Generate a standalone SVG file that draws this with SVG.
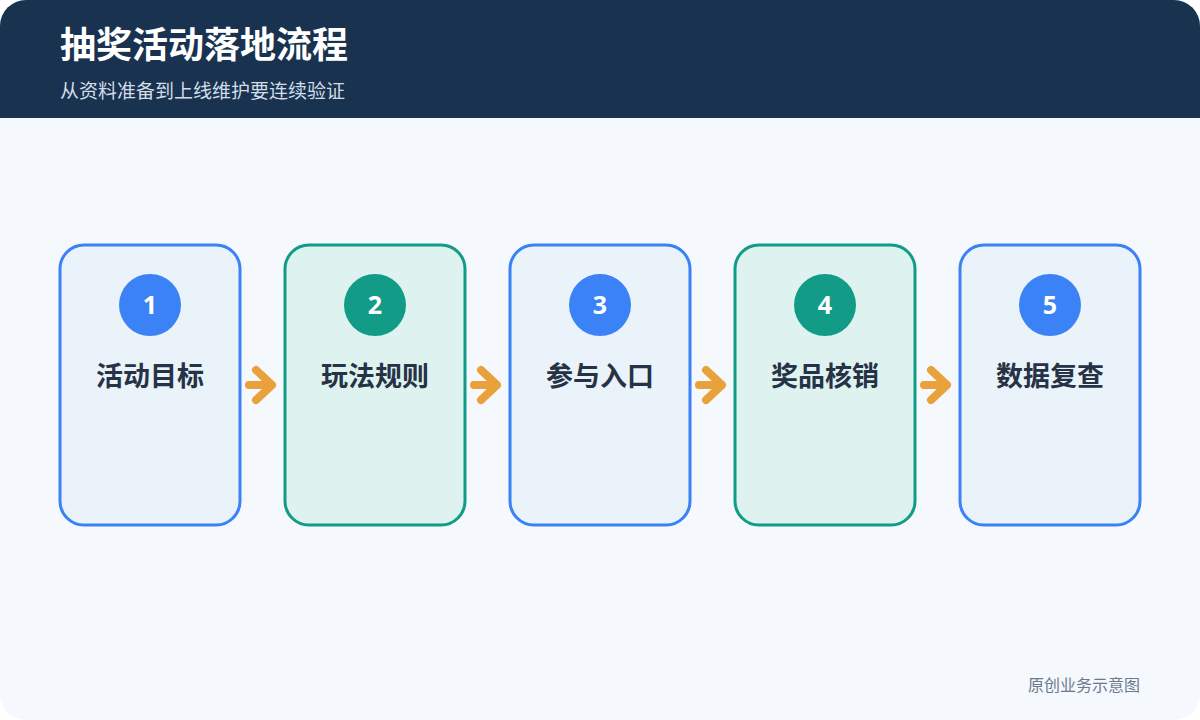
<svg xmlns="http://www.w3.org/2000/svg" width="1200" height="720" viewBox="0 0 1200 720">
  <defs>
    <clipPath id="canvasClip">
      <rect x="0" y="0" width="1200" height="720" rx="26" ry="26"/>
    </clipPath>
    <style>
      .title { font-family: "Noto Sans CJK SC", "Noto Sans", sans-serif; font-weight: 700; font-size: 36px; fill: #ffffff; }
      .subtitle { font-family: "Noto Sans CJK SC", "Noto Sans", sans-serif; font-size: 19px; fill: #d3dde8; }
      .card-blue { fill: #eaf2fa; stroke: #3b82f6; stroke-width: 3; }
      .card-green { fill: #def3ef; stroke: #129c88; stroke-width: 3; }
      .dot-blue { fill: #3b82f6; }
      .dot-green { fill: #129c88; }
      .num { font-family: "Noto Sans", "Noto Sans CJK SC", sans-serif; font-weight: 700; font-size: 25px; fill: #ffffff; text-anchor: middle; }
      .label { font-family: "Noto Sans CJK SC", "Noto Sans", sans-serif; font-weight: 700; font-size: 27px; fill: #263245; text-anchor: middle; }
      .arrow { fill: none; stroke: #e9a23b; stroke-width: 8; stroke-linecap: round; stroke-linejoin: round; }
      .footer { font-family: "Noto Sans CJK SC", "Noto Sans", sans-serif; font-size: 16px; fill: #6b7a8e; text-anchor: end; }
    </style>
  </defs>
  <rect x="0" y="0" width="1200" height="720" fill="#ffffff"/>
  <g clip-path="url(#canvasClip)">
    <rect x="0" y="0" width="1200" height="720" fill="#f5f8fd"/>
    <rect x="0" y="0" width="1200" height="118" fill="#18324f"/>
  </g>
  <g id="header">
    <text class="title" x="60" y="58">抽奖活动落地流程</text>
    <text class="subtitle" x="60" y="98">从资料准备到上线维护要连续验证</text>
  </g>

  <g id="connectors">
    <path class="arrow" d="M249 385 H272 M256 370 L272 385 L256 400"/>
    <path class="arrow" d="M474 385 H497 M481 370 L497 385 L481 400"/>
    <path class="arrow" d="M699 385 H722 M706 370 L722 385 L706 400"/>
    <path class="arrow" d="M924 385 H947 M931 370 L947 385 L931 400"/>
  </g>

  <g id="node1">
    <rect class="card-blue" x="60" y="245" width="180" height="280" rx="24"/>
    <circle class="dot-blue" cx="150" cy="305" r="31"/>
    <text class="num" x="150" y="314">1</text>
    <text class="label" x="150" y="386">活动目标</text>
  </g>
  <g id="node2">
    <rect class="card-green" x="285" y="245" width="180" height="280" rx="24"/>
    <circle class="dot-green" cx="375" cy="305" r="31"/>
    <text class="num" x="375" y="314">2</text>
    <text class="label" x="375" y="386">玩法规则</text>
  </g>
  <g id="node3">
    <rect class="card-blue" x="510" y="245" width="180" height="280" rx="24"/>
    <circle class="dot-blue" cx="600" cy="305" r="31"/>
    <text class="num" x="600" y="314">3</text>
    <text class="label" x="600" y="386">参与入口</text>
  </g>
  <g id="node4">
    <rect class="card-green" x="735" y="245" width="180" height="280" rx="24"/>
    <circle class="dot-green" cx="825" cy="305" r="31"/>
    <text class="num" x="825" y="314">4</text>
    <text class="label" x="825" y="386">奖品核销</text>
  </g>
  <g id="node5">
    <rect class="card-blue" x="960" y="245" width="180" height="280" rx="24"/>
    <circle class="dot-blue" cx="1050" cy="305" r="31"/>
    <text class="num" x="1050" y="314">5</text>
    <text class="label" x="1050" y="386">数据复查</text>
  </g>

  <text class="footer" x="1140" y="691">原创业务示意图</text>
</svg>
